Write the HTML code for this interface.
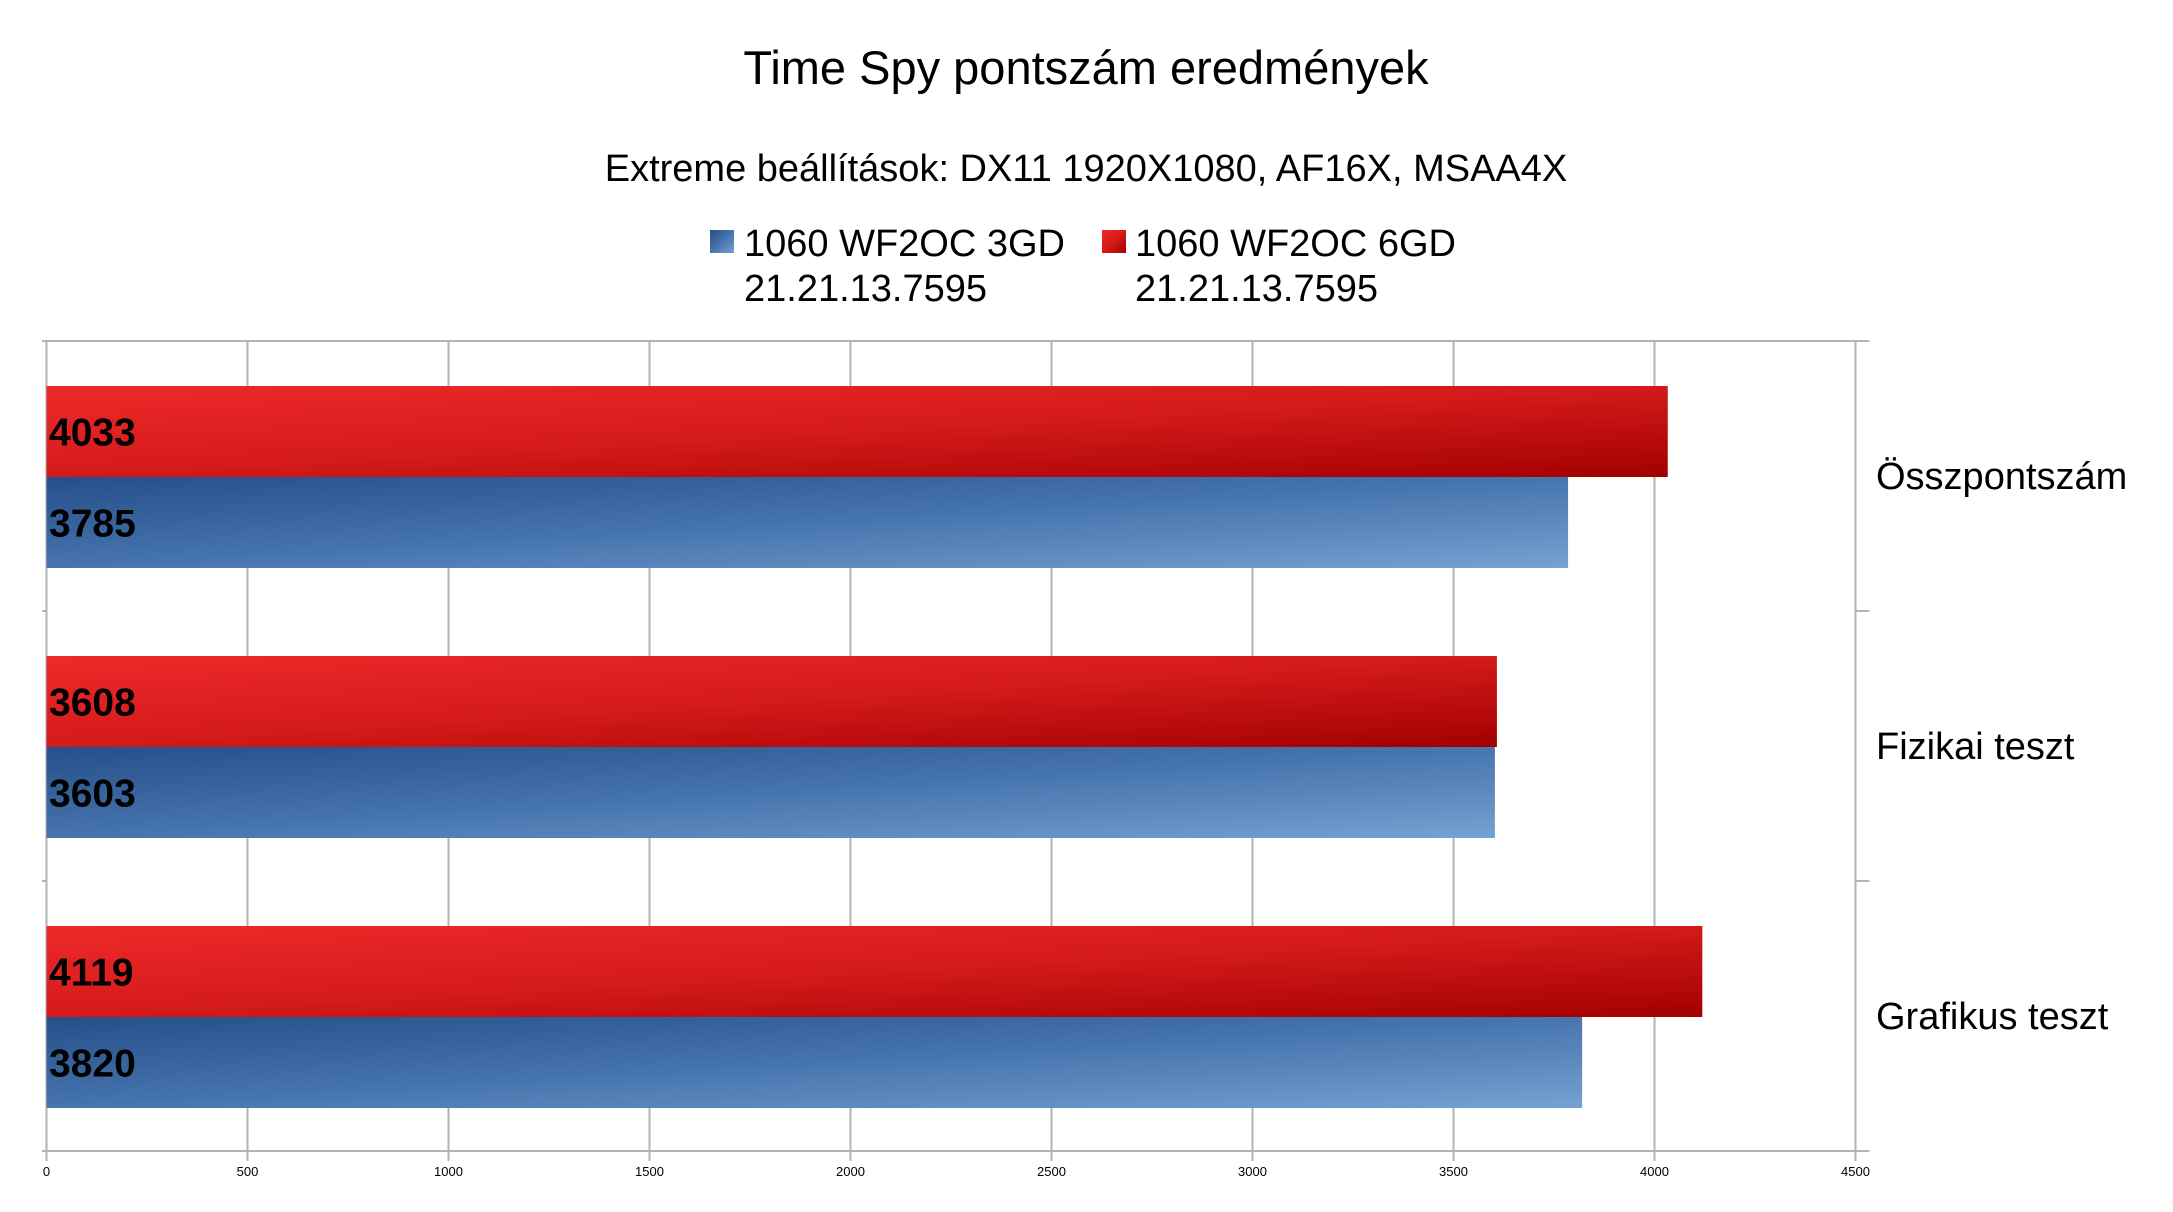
<!DOCTYPE html>
<html><head><meta charset="utf-8"><style>
body{margin:0;background:#fff;}
svg text{font-family:"Liberation Sans",sans-serif;}
</style></head><body>
<svg width="2173" height="1207" xmlns="http://www.w3.org/2000/svg">
<defs>
<linearGradient id="gr" x1="0" y1="0" x2="1" y2="1"><stop offset="0" stop-color="#ee2a2a"/><stop offset="0.5" stop-color="#d41a1a"/><stop offset="1" stop-color="#a20000"/></linearGradient>
<linearGradient id="gb" x1="0" y1="0" x2="1" y2="1"><stop offset="0" stop-color="#254f8a"/><stop offset="0.5" stop-color="#4674ad"/><stop offset="1" stop-color="#74a2d2"/></linearGradient>
</defs>
<text x="1086" y="84" font-size="47" text-anchor="middle">Time Spy pontszám eredmények</text>
<text x="1086" y="181" font-size="38" text-anchor="middle">Extreme beállítások: DX11 1920X1080, AF16X, MSAA4X</text>
<g>
<rect x="710" y="230" width="24" height="23" fill="url(#gb)"/>
<text x="744" y="256" font-size="38"><tspan x="744">1060 WF2OC 3GD</tspan><tspan x="744" dy="45">21.21.13.7595</tspan></text>
<rect x="1102" y="230" width="24" height="23" fill="url(#gr)"/>
<text x="1135" y="256" font-size="38"><tspan x="1135">1060 WF2OC 6GD</tspan><tspan x="1135" dy="45">21.21.13.7595</tspan></text>
</g>
<g id="plot"></g>
</svg>
<script>
const categories=["Összpontszám","Fizikai teszt","Grafikus teszt"];
const series6gd=[4033,3608,4119];
const series3gd=[3785,3603,3820];
const ticks=[0,500,1000,1500,2000,2500,3000,3500,4000,4500];
const X0=46.5,XS=0.402,Y0=341,CAT=270,BAR=91,OFF=45;
const xs=v=>X0+v*XS;
const ns="http://www.w3.org/2000/svg";
const g=document.getElementById('plot');
function mk(t,a){const e=document.createElementNS(ns,t);for(const k in a)e.setAttribute(k,a[k]);g.appendChild(e);return e;}
ticks.forEach(t=>{
 const l=mk('line',{x1:xs(t),x2:xs(t),y1:Y0,y2:Y0+CAT*3+10,stroke:'#b3b3b3','stroke-width':2});
 
 
 const tx=mk('text',{x:xs(t),y:1176,'font-size':13,'text-anchor':'middle'});
 tx.textContent=t;
 
 
});
for(let i=0;i<=3;i++){
 const y=Y0+i*CAT;
 const l=mk('line',{x1:i==0||i==3?42:42,x2:i==0||i==3?xs(4500)+14:X0,y1:y,y2:y,stroke:'#b3b3b3','stroke-width':2});
 
 
 const r=mk('line',{x1:xs(4500),x2:xs(4500)+14,y1:y,y2:y,stroke:'#b3b3b3','stroke-width':2});
 
 
}
categories.forEach((c,i)=>{
 const top=Y0+i*CAT+OFF;
 const r1=mk('rect',{x:X0,y:top,width:xs(series6gd[i])-X0,height:BAR,fill:'url(#gr)'});
 
 
 const r2=mk('rect',{x:X0,y:top+BAR,width:xs(series3gd[i])-X0,height:BAR,fill:'url(#gb)'});
 
 
 const t1=mk('text',{x:49,y:top+BAR/2+14,'font-size':39,'font-weight':'bold'});
 t1.textContent=series6gd[i];
 
 
 const t2=mk('text',{x:49,y:top+BAR*1.5+14,'font-size':39,'font-weight':'bold'});
 t2.textContent=series3gd[i];
 
 
 const cl=mk('text',{x:1876,y:Y0+i*CAT+CAT/2+13,'font-size':38});
 cl.textContent=c;
 
 
});
</script>
</body></html>
